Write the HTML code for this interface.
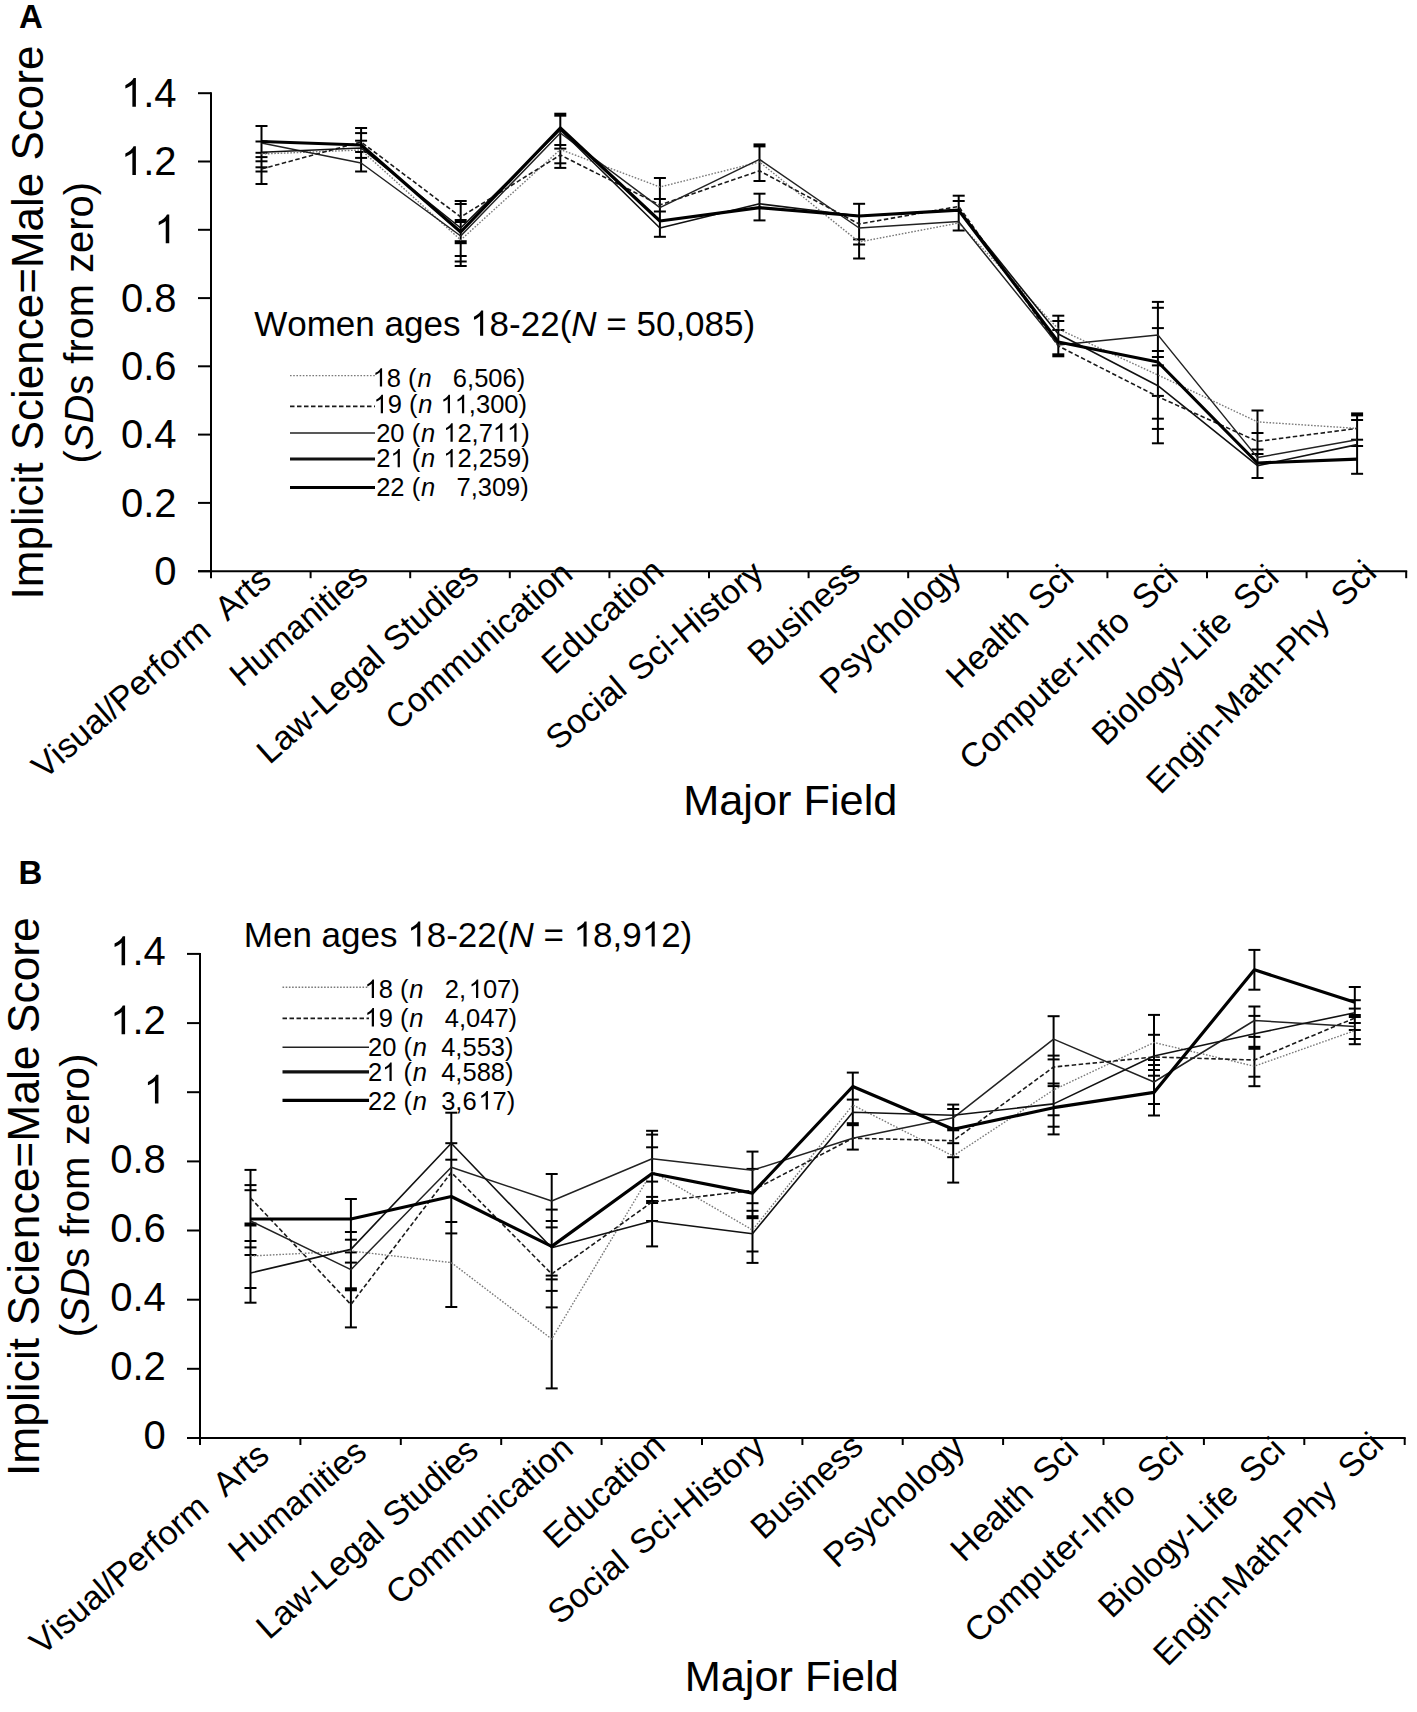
<!DOCTYPE html><html><head><meta charset="utf-8"><style>html,body{margin:0;padding:0;background:#fff;}svg{display:block} text{font-family:"Liberation Sans", sans-serif;fill:#000;font-kerning:none}</style></head><body>
<svg width="1417" height="1712" viewBox="0 0 1417 1712">
<rect width="1417" height="1712" fill="#fff"/>
<text x="19.0" y="27.9" font-size="33" text-anchor="start" font-weight="bold" >A</text>
<text transform="translate(43.2,322.5) rotate(-90)" font-size="44" text-anchor="middle" x="0" y="0">Implicit Science=Male Score</text>
<text transform="translate(92.8,322.7) rotate(-90)" font-size="39.9" text-anchor="middle" x="0" y="0">(<tspan font-style="italic">SD</tspan>s from zero)</text>
<g stroke="#000" stroke-width="2" fill="none"><line x1="211.0" y1="92.2" x2="211.0" y2="578.2" /><line x1="198.0" y1="571.2" x2="1407.2" y2="571.2" /><line x1="198.0" y1="571.2" x2="211.0" y2="571.2" /><line x1="198.0" y1="502.9" x2="211.0" y2="502.9" /><line x1="198.0" y1="434.6" x2="211.0" y2="434.6" /><line x1="198.0" y1="366.3" x2="211.0" y2="366.3" /><line x1="198.0" y1="298.1" x2="211.0" y2="298.1" /><line x1="198.0" y1="229.8" x2="211.0" y2="229.8" /><line x1="198.0" y1="161.5" x2="211.0" y2="161.5" /><line x1="198.0" y1="93.2" x2="211.0" y2="93.2" /><line x1="310.6" y1="571.2" x2="310.6" y2="578.2" /><line x1="410.2" y1="571.2" x2="410.2" y2="578.2" /><line x1="509.8" y1="571.2" x2="509.8" y2="578.2" /><line x1="609.4" y1="571.2" x2="609.4" y2="578.2" /><line x1="709.0" y1="571.2" x2="709.0" y2="578.2" /><line x1="808.6" y1="571.2" x2="808.6" y2="578.2" /><line x1="908.2" y1="571.2" x2="908.2" y2="578.2" /><line x1="1007.8" y1="571.2" x2="1007.8" y2="578.2" /><line x1="1107.4" y1="571.2" x2="1107.4" y2="578.2" /><line x1="1207.0" y1="571.2" x2="1207.0" y2="578.2" /><line x1="1306.6" y1="571.2" x2="1306.6" y2="578.2" /><line x1="1406.2" y1="571.2" x2="1406.2" y2="578.2" /></g>
<text x="154.35" y="584.80" font-size="40" xml:space="preserve">0</text>
<text x="120.99" y="516.51" font-size="40" xml:space="preserve">0.2</text>
<text x="120.99" y="448.23" font-size="40" xml:space="preserve">0.4</text>
<text x="120.99" y="379.94" font-size="40" xml:space="preserve">0.6</text>
<text x="120.99" y="311.66" font-size="40" xml:space="preserve">0.8</text>
<path transform="translate(154.35,243.37) scale(0.01953,-0.01953)" d="M763 0L583 0L583 1147C540 1106 483 1065 413 1024C343 983 280 952 224 931L224 1105C325 1152 413 1210 488 1278C563 1346 616 1412 647 1476L763 1476Z"/>
<path transform="translate(120.99,175.09) scale(0.01953,-0.01953)" d="M763 0L583 0L583 1147C540 1106 483 1065 413 1024C343 983 280 952 224 931L224 1105C325 1152 413 1210 488 1278C563 1346 616 1412 647 1476L763 1476Z"/><text x="143.24" y="175.09" font-size="40" xml:space="preserve">.2</text>
<path transform="translate(120.99,106.80) scale(0.01953,-0.01953)" d="M763 0L583 0L583 1147C540 1106 483 1065 413 1024C343 983 280 952 224 931L224 1105C325 1152 413 1210 488 1278C563 1346 616 1412 647 1476L763 1476Z"/><text x="143.24" y="106.80" font-size="40" xml:space="preserve">.4</text>
<text transform="translate(273.0,582.4) rotate(-40.85)" font-size="34" text-anchor="end" word-spacing="9.4" x="0" y="0">Visual/Perform Arts</text>
<text transform="translate(369.8,579.6) rotate(-40.27)" font-size="33.55" text-anchor="end" word-spacing="0" x="0" y="0">Humanities</text>
<text transform="translate(480.7,578.2) rotate(-41.53)" font-size="34" text-anchor="end" word-spacing="2.44" x="0" y="0">Law-Legal Studies</text>
<text transform="translate(574.6,576.8) rotate(-41.18)" font-size="33.81" text-anchor="end" word-spacing="0" x="0" y="0">Communication</text>
<text transform="translate(665.8,574.0) rotate(-42.49)" font-size="33.85" text-anchor="end" word-spacing="0" x="0" y="0">Education</text>
<text transform="translate(765.4,576.8) rotate(-40.1)" font-size="34" text-anchor="end" word-spacing="4.72" x="0" y="0">Social Sci-History</text>
<text transform="translate(862.2,575.4) rotate(-42.03)" font-size="33.72" text-anchor="end" word-spacing="0" x="0" y="0">Business</text>
<text transform="translate(963.2,576.8) rotate(-42.41)" font-size="34.46" text-anchor="end" word-spacing="0" x="0" y="0">Psychology</text>
<text transform="translate(1075.6,579.7) rotate(-43.59)" font-size="34" text-anchor="end" word-spacing="5.18" x="0" y="0">Health Sci</text>
<text transform="translate(1179.9,579.7) rotate(-42.78)" font-size="34" text-anchor="end" word-spacing="8.73" x="0" y="0">Computer-Info Sci</text>
<text transform="translate(1280.8,579.7) rotate(-43.71)" font-size="34" text-anchor="end" word-spacing="8.04" x="0" y="0">Biology-Life Sci</text>
<text transform="translate(1378.2,574.6) rotate(-45.41)" font-size="34" text-anchor="end" word-spacing="9.8" x="0" y="0">Engin-Math-Phy Sci</text>
<text x="790.3" y="815.0" font-size="43.3" text-anchor="middle" font-weight="normal" >Major Field</text>
<text x="254.20" y="335.70" font-size="35" xml:space="preserve">Women ages </text><path transform="translate(470.13,335.70) scale(0.01709,-0.01709)" d="M763 0L583 0L583 1147C540 1106 483 1065 413 1024C343 983 280 952 224 931L224 1105C325 1152 413 1210 488 1278C563 1346 616 1412 647 1476L763 1476Z"/><text x="489.60" y="335.70" font-size="35" xml:space="preserve">8-22(</text><text x="571.30" y="335.70" font-size="35" font-style="italic" xml:space="preserve">N</text><text x="596.58" y="335.70" font-size="35" xml:space="preserve"> = 50,085)</text>
<line x1="290" y1="375.6" x2="375" y2="375.6" stroke="#7a7a7a" stroke-width="1.4" stroke-dasharray="1.6 1.6"/>
<path transform="translate(372.60,386.60) scale(0.01245,-0.01245)" d="M763 0L583 0L583 1147C540 1106 483 1065 413 1024C343 983 280 952 224 931L224 1105C325 1152 413 1210 488 1278C563 1346 616 1412 647 1476L763 1476Z"/><text x="386.78" y="386.60" font-size="25.5" xml:space="preserve">8 (</text><text x="417.44" y="386.60" font-size="25.5" font-style="italic" xml:space="preserve">n</text><text x="431.62" y="386.60" font-size="25.5" xml:space="preserve">   6,506)</text>
<line x1="290" y1="406.4" x2="375" y2="406.4" stroke="#1a1a1a" stroke-width="1.6" stroke-dasharray="4.5 2.5"/>
<path transform="translate(373.50,413.20) scale(0.01245,-0.01245)" d="M763 0L583 0L583 1147C540 1106 483 1065 413 1024C343 983 280 952 224 931L224 1105C325 1152 413 1210 488 1278C563 1346 616 1412 647 1476L763 1476Z"/><text x="387.68" y="413.20" font-size="25.5" xml:space="preserve">9 (</text><text x="418.34" y="413.20" font-size="25.5" font-style="italic" xml:space="preserve">n</text><path transform="translate(440.51,413.20) scale(0.01245,-0.01245)" d="M763 0L583 0L583 1147C540 1106 483 1065 413 1024C343 983 280 952 224 931L224 1105C325 1152 413 1210 488 1278C563 1346 616 1412 647 1476L763 1476Z"/><path transform="translate(454.69,413.20) scale(0.01245,-0.01245)" d="M763 0L583 0L583 1147C540 1106 483 1065 413 1024C343 983 280 952 224 931L224 1105C325 1152 413 1210 488 1278C563 1346 616 1412 647 1476L763 1476Z"/><text x="468.87" y="413.20" font-size="25.5" xml:space="preserve">,300)</text>
<line x1="290" y1="433.0" x2="375" y2="433.0" stroke="#222" stroke-width="1.5"/>
<text x="376.20" y="441.70" font-size="25.5" xml:space="preserve">20 (</text><text x="421.04" y="441.70" font-size="25.5" font-style="italic" xml:space="preserve">n</text><path transform="translate(443.21,441.70) scale(0.01245,-0.01245)" d="M763 0L583 0L583 1147C540 1106 483 1065 413 1024C343 983 280 952 224 931L224 1105C325 1152 413 1210 488 1278C563 1346 616 1412 647 1476L763 1476Z"/><text x="457.39" y="441.70" font-size="25.5" xml:space="preserve">2,7</text><path transform="translate(492.84,441.70) scale(0.01245,-0.01245)" d="M763 0L583 0L583 1147C540 1106 483 1065 413 1024C343 983 280 952 224 931L224 1105C325 1152 413 1210 488 1278C563 1346 616 1412 647 1476L763 1476Z"/><path transform="translate(507.02,441.70) scale(0.01245,-0.01245)" d="M763 0L583 0L583 1147C540 1106 483 1065 413 1024C343 983 280 952 224 931L224 1105C325 1152 413 1210 488 1278C563 1346 616 1412 647 1476L763 1476Z"/><text x="521.20" y="441.70" font-size="25.5" xml:space="preserve">)</text>
<line x1="290" y1="459.0" x2="375" y2="459.0" stroke="#111" stroke-width="3.2"/>
<text x="376.20" y="467.30" font-size="25.5" xml:space="preserve">2</text><path transform="translate(390.38,467.30) scale(0.01245,-0.01245)" d="M763 0L583 0L583 1147C540 1106 483 1065 413 1024C343 983 280 952 224 931L224 1105C325 1152 413 1210 488 1278C563 1346 616 1412 647 1476L763 1476Z"/><text x="404.56" y="467.30" font-size="25.5" xml:space="preserve"> (</text><text x="421.04" y="467.30" font-size="25.5" font-style="italic" xml:space="preserve">n</text><path transform="translate(443.21,467.30) scale(0.01245,-0.01245)" d="M763 0L583 0L583 1147C540 1106 483 1065 413 1024C343 983 280 952 224 931L224 1105C325 1152 413 1210 488 1278C563 1346 616 1412 647 1476L763 1476Z"/><text x="457.39" y="467.30" font-size="25.5" xml:space="preserve">2,259)</text>
<line x1="290" y1="487.5" x2="375" y2="487.5" stroke="#000" stroke-width="3.2"/>
<text x="376.20" y="495.80" font-size="25.5" xml:space="preserve">22 (</text><text x="421.04" y="495.80" font-size="25.5" font-style="italic" xml:space="preserve">n</text><text x="435.22" y="495.80" font-size="25.5" xml:space="preserve">   7,309)</text>
<g stroke="#000" stroke-width="2" fill="none"><line x1="261.5" y1="126.0" x2="261.5" y2="184.0"/><line x1="255.5" y1="126.0" x2="267.5" y2="126.0"/><line x1="255.5" y1="141.5" x2="267.5" y2="141.5"/><line x1="255.5" y1="152.8" x2="267.5" y2="152.8"/><line x1="255.5" y1="157.1" x2="267.5" y2="157.1"/><line x1="255.5" y1="161.3" x2="267.5" y2="161.3"/><line x1="255.5" y1="167.3" x2="267.5" y2="167.3"/><line x1="255.5" y1="171.5" x2="267.5" y2="171.5"/><line x1="255.5" y1="184.0" x2="267.5" y2="184.0"/><line x1="361.1" y1="128.0" x2="361.1" y2="171.5"/><line x1="355.1" y1="128.0" x2="367.1" y2="128.0"/><line x1="355.1" y1="133.1" x2="367.1" y2="133.1"/><line x1="355.1" y1="140.7" x2="367.1" y2="140.7"/><line x1="355.1" y1="152.0" x2="367.1" y2="152.0"/><line x1="355.1" y1="157.9" x2="367.1" y2="157.9"/><line x1="355.1" y1="171.5" x2="367.1" y2="171.5"/><line x1="460.7" y1="201.0" x2="460.7" y2="266.0"/><line x1="454.7" y1="201.0" x2="466.7" y2="201.0"/><line x1="454.7" y1="204.0" x2="466.7" y2="204.0"/><line x1="454.7" y1="221.0" x2="466.7" y2="221.0" stroke-width="4"/><line x1="454.7" y1="242.2" x2="466.7" y2="242.2" stroke-width="4"/><line x1="454.7" y1="256.0" x2="466.7" y2="256.0"/><line x1="454.7" y1="261.5" x2="466.7" y2="261.5"/><line x1="454.7" y1="266.0" x2="466.7" y2="266.0"/><line x1="560.3" y1="114.7" x2="560.3" y2="167.9"/><line x1="554.3" y1="114.7" x2="566.3" y2="114.7" stroke-width="4"/><line x1="554.3" y1="145.0" x2="566.3" y2="145.0"/><line x1="554.3" y1="148.6" x2="566.3" y2="148.6"/><line x1="554.3" y1="163.3" x2="566.3" y2="163.3"/><line x1="554.3" y1="167.9" x2="566.3" y2="167.9"/><line x1="659.9" y1="178.0" x2="659.9" y2="236.8"/><line x1="653.9" y1="178.0" x2="665.9" y2="178.0"/><line x1="653.9" y1="199.0" x2="665.9" y2="199.0"/><line x1="653.9" y1="211.5" x2="665.9" y2="211.5"/><line x1="653.9" y1="236.8" x2="665.9" y2="236.8"/><line x1="759.5" y1="145.4" x2="759.5" y2="181.0"/><line x1="759.5" y1="193.7" x2="759.5" y2="220.4"/><line x1="753.5" y1="145.4" x2="765.5" y2="145.4" stroke-width="4"/><line x1="753.5" y1="181.0" x2="765.5" y2="181.0"/><line x1="753.5" y1="193.7" x2="765.5" y2="193.7"/><line x1="753.5" y1="220.4" x2="765.5" y2="220.4"/><line x1="859.1" y1="203.8" x2="859.1" y2="258.5"/><line x1="853.1" y1="203.8" x2="865.1" y2="203.8"/><line x1="853.1" y1="239.4" x2="865.1" y2="239.4"/><line x1="853.1" y1="244.5" x2="865.1" y2="244.5"/><line x1="853.1" y1="258.5" x2="865.1" y2="258.5"/><line x1="958.7" y1="195.7" x2="958.7" y2="230.5"/><line x1="952.7" y1="195.7" x2="964.7" y2="195.7"/><line x1="952.7" y1="201.0" x2="964.7" y2="201.0"/><line x1="952.7" y1="230.5" x2="964.7" y2="230.5"/><line x1="1058.3" y1="315.7" x2="1058.3" y2="355.3"/><line x1="1052.3" y1="315.7" x2="1064.3" y2="315.7"/><line x1="1052.3" y1="321.0" x2="1064.3" y2="321.0"/><line x1="1052.3" y1="330.0" x2="1064.3" y2="330.0"/><line x1="1052.3" y1="355.3" x2="1064.3" y2="355.3" stroke-width="4"/><line x1="1157.9" y1="301.9" x2="1157.9" y2="443.3"/><line x1="1151.9" y1="301.9" x2="1163.9" y2="301.9"/><line x1="1151.9" y1="307.8" x2="1163.9" y2="307.8"/><line x1="1151.9" y1="328.1" x2="1163.9" y2="328.1"/><line x1="1151.9" y1="351.0" x2="1163.9" y2="351.0"/><line x1="1151.9" y1="357.0" x2="1163.9" y2="357.0"/><line x1="1151.9" y1="365.4" x2="1163.9" y2="365.4"/><line x1="1151.9" y1="395.9" x2="1163.9" y2="395.9"/><line x1="1151.9" y1="418.7" x2="1163.9" y2="418.7"/><line x1="1151.9" y1="428.9" x2="1163.9" y2="428.9"/><line x1="1151.9" y1="443.3" x2="1163.9" y2="443.3"/><line x1="1257.5" y1="410.5" x2="1257.5" y2="478.0"/><line x1="1251.5" y1="410.5" x2="1263.5" y2="410.5"/><line x1="1251.5" y1="433.0" x2="1263.5" y2="433.0"/><line x1="1251.5" y1="449.5" x2="1263.5" y2="449.5"/><line x1="1251.5" y1="454.0" x2="1263.5" y2="454.0"/><line x1="1251.5" y1="478.0" x2="1263.5" y2="478.0"/><line x1="1357.1" y1="414.4" x2="1357.1" y2="473.8"/><line x1="1351.1" y1="414.4" x2="1363.1" y2="414.4" stroke-width="4"/><line x1="1351.1" y1="420.0" x2="1363.1" y2="420.0"/><line x1="1351.1" y1="439.7" x2="1363.1" y2="439.7"/><line x1="1351.1" y1="446.0" x2="1363.1" y2="446.0"/><line x1="1351.1" y1="473.8" x2="1363.1" y2="473.8"/></g>
<polyline points="261.5,154.0 361.1,150.0 460.7,240.0 560.3,149.5 659.9,187.0 759.5,162.0 859.1,242.0 958.7,223.0 1058.3,329.0 1157.9,375.0 1257.5,421.9 1357.1,428.4" fill="none" stroke="#7a7a7a" stroke-width="1.4" stroke-linejoin="round" stroke-dasharray="1.6 1.6"/>
<polyline points="261.5,169.0 361.1,142.0 460.7,217.0 560.3,155.0 659.9,205.0 759.5,170.8 859.1,224.0 958.7,206.4 1058.3,346.0 1157.9,396.7 1257.5,441.4 1357.1,428.4" fill="none" stroke="#1a1a1a" stroke-width="1.6" stroke-linejoin="round" stroke-dasharray="4.5 2.5"/>
<polyline points="261.5,143.0 361.1,163.0 460.7,236.0 560.3,133.0 659.9,207.7 759.5,159.4 859.1,228.0 958.7,221.6 1058.3,345.0 1157.9,334.9 1257.5,457.6 1357.1,439.7" fill="none" stroke="#222" stroke-width="1.5" stroke-linejoin="round"/>
<polyline points="261.5,152.3 361.1,148.0 460.7,228.0 560.3,130.0 659.9,228.0 759.5,203.8 859.1,216.0 958.7,210.2 1058.3,334.0 1157.9,385.7 1257.5,465.7 1357.1,444.6" fill="none" stroke="#111" stroke-width="1.6" stroke-linejoin="round"/>
<polyline points="261.5,141.5 361.1,145.0 460.7,232.0 560.3,128.0 659.9,221.0 759.5,207.7 859.1,216.0 958.7,210.2 1058.3,342.0 1157.9,362.0 1257.5,463.0 1357.1,459.2" fill="none" stroke="#000" stroke-width="3.2" stroke-linejoin="round"/>
<text x="18.5" y="884.4" font-size="33" text-anchor="start" font-weight="bold" >B</text>
<text transform="translate(39.2,1196.6) rotate(-90)" font-size="44.4" text-anchor="middle" x="0" y="0">Implicit Science=Male Score</text>
<text transform="translate(89.2,1195.5) rotate(-90)" font-size="40.2" text-anchor="middle" x="0" y="0">(<tspan font-style="italic">SD</tspan>s from zero)</text>
<g stroke="#000" stroke-width="2" fill="none"><line x1="200.0" y1="952.9" x2="200.0" y2="1445.0" /><line x1="187.0" y1="1438.0" x2="1405.7" y2="1438.0" /><line x1="187.0" y1="1438.0" x2="200.0" y2="1438.0" /><line x1="187.0" y1="1368.8" x2="200.0" y2="1368.8" /><line x1="187.0" y1="1299.7" x2="200.0" y2="1299.7" /><line x1="187.0" y1="1230.5" x2="200.0" y2="1230.5" /><line x1="187.0" y1="1161.4" x2="200.0" y2="1161.4" /><line x1="187.0" y1="1092.2" x2="200.0" y2="1092.2" /><line x1="187.0" y1="1023.1" x2="200.0" y2="1023.1" /><line x1="187.0" y1="953.9" x2="200.0" y2="953.9" /><line x1="300.4" y1="1438.0" x2="300.4" y2="1445.0" /><line x1="400.8" y1="1438.0" x2="400.8" y2="1445.0" /><line x1="501.2" y1="1438.0" x2="501.2" y2="1445.0" /><line x1="601.6" y1="1438.0" x2="601.6" y2="1445.0" /><line x1="702.0" y1="1438.0" x2="702.0" y2="1445.0" /><line x1="802.4" y1="1438.0" x2="802.4" y2="1445.0" /><line x1="902.7" y1="1438.0" x2="902.7" y2="1445.0" /><line x1="1003.1" y1="1438.0" x2="1003.1" y2="1445.0" /><line x1="1103.5" y1="1438.0" x2="1103.5" y2="1445.0" /><line x1="1203.9" y1="1438.0" x2="1203.9" y2="1445.0" /><line x1="1304.3" y1="1438.0" x2="1304.3" y2="1445.0" /><line x1="1404.7" y1="1438.0" x2="1404.7" y2="1445.0" /></g>
<text x="143.55" y="1449.30" font-size="40" xml:space="preserve">0</text>
<text x="110.19" y="1380.14" font-size="40" xml:space="preserve">0.2</text>
<text x="110.19" y="1310.99" font-size="40" xml:space="preserve">0.4</text>
<text x="110.19" y="1241.83" font-size="40" xml:space="preserve">0.6</text>
<text x="110.19" y="1172.67" font-size="40" xml:space="preserve">0.8</text>
<path transform="translate(143.55,1103.51) scale(0.01953,-0.01953)" d="M763 0L583 0L583 1147C540 1106 483 1065 413 1024C343 983 280 952 224 931L224 1105C325 1152 413 1210 488 1278C563 1346 616 1412 647 1476L763 1476Z"/>
<path transform="translate(110.19,1034.36) scale(0.01953,-0.01953)" d="M763 0L583 0L583 1147C540 1106 483 1065 413 1024C343 983 280 952 224 931L224 1105C325 1152 413 1210 488 1278C563 1346 616 1412 647 1476L763 1476Z"/><text x="132.44" y="1034.36" font-size="40" xml:space="preserve">.2</text>
<path transform="translate(110.19,965.20) scale(0.01953,-0.01953)" d="M763 0L583 0L583 1147C540 1106 483 1065 413 1024C343 983 280 952 224 931L224 1105C325 1152 413 1210 488 1278C563 1346 616 1412 647 1476L763 1476Z"/><text x="132.44" y="965.20" font-size="40" xml:space="preserve">.4</text>
<text transform="translate(271.0,1458.4) rotate(-40.85)" font-size="34" text-anchor="end" word-spacing="9.4" x="0" y="0">Visual/Perform Arts</text>
<text transform="translate(368.6,1455.2) rotate(-40.27)" font-size="33.55" text-anchor="end" word-spacing="0" x="0" y="0">Humanities</text>
<text transform="translate(480.3,1453.5) rotate(-41.53)" font-size="34" text-anchor="end" word-spacing="2.44" x="0" y="0">Law-Legal Studies</text>
<text transform="translate(575.1,1451.7) rotate(-41.18)" font-size="33.81" text-anchor="end" word-spacing="0" x="0" y="0">Communication</text>
<text transform="translate(667.1,1448.5) rotate(-42.49)" font-size="33.85" text-anchor="end" word-spacing="0" x="0" y="0">Education</text>
<text transform="translate(767.5,1451.0) rotate(-40.1)" font-size="34" text-anchor="end" word-spacing="4.72" x="0" y="0">Social Sci-History</text>
<text transform="translate(865.1,1449.2) rotate(-42.03)" font-size="33.72" text-anchor="end" word-spacing="0" x="0" y="0">Business</text>
<text transform="translate(966.9,1450.3) rotate(-42.41)" font-size="34.46" text-anchor="end" word-spacing="0" x="0" y="0">Psychology</text>
<text transform="translate(1080.1,1452.8) rotate(-43.59)" font-size="34" text-anchor="end" word-spacing="5.18" x="0" y="0">Health Sci</text>
<text transform="translate(1185.3,1452.4) rotate(-42.78)" font-size="34" text-anchor="end" word-spacing="8.73" x="0" y="0">Computer-Info Sci</text>
<text transform="translate(1287.0,1452.1) rotate(-43.71)" font-size="34" text-anchor="end" word-spacing="8.04" x="0" y="0">Biology-Life Sci</text>
<text transform="translate(1385.2,1446.6) rotate(-45.41)" font-size="34" text-anchor="end" word-spacing="9.8" x="0" y="0">Engin-Math-Phy Sci</text>
<text x="791.8" y="1690.8" font-size="43.3" text-anchor="middle" font-weight="normal" >Major Field</text>
<text x="243.80" y="946.60" font-size="35" xml:space="preserve">Men ages </text><path transform="translate(407.23,946.60) scale(0.01709,-0.01709)" d="M763 0L583 0L583 1147C540 1106 483 1065 413 1024C343 983 280 952 224 931L224 1105C325 1152 413 1210 488 1278C563 1346 616 1412 647 1476L763 1476Z"/><text x="426.70" y="946.60" font-size="35" xml:space="preserve">8-22(</text><text x="508.40" y="946.60" font-size="35" font-style="italic" xml:space="preserve">N</text><text x="533.68" y="946.60" font-size="35" xml:space="preserve"> = </text><path transform="translate(573.57,946.60) scale(0.01709,-0.01709)" d="M763 0L583 0L583 1147C540 1106 483 1065 413 1024C343 983 280 952 224 931L224 1105C325 1152 413 1210 488 1278C563 1346 616 1412 647 1476L763 1476Z"/><text x="593.03" y="946.60" font-size="35" xml:space="preserve">8,9</text><path transform="translate(641.69,946.60) scale(0.01709,-0.01709)" d="M763 0L583 0L583 1147C540 1106 483 1065 413 1024C343 983 280 952 224 931L224 1105C325 1152 413 1210 488 1278C563 1346 616 1412 647 1476L763 1476Z"/><text x="661.15" y="946.60" font-size="35" xml:space="preserve">2)</text>
<line x1="282.5" y1="987.2" x2="369" y2="987.2" stroke="#7a7a7a" stroke-width="1.4" stroke-dasharray="1.6 1.6"/>
<path transform="translate(364.50,998.00) scale(0.01245,-0.01245)" d="M763 0L583 0L583 1147C540 1106 483 1065 413 1024C343 983 280 952 224 931L224 1105C325 1152 413 1210 488 1278C563 1346 616 1412 647 1476L763 1476Z"/><text x="378.68" y="998.00" font-size="25.5" xml:space="preserve">8 (</text><text x="409.34" y="998.00" font-size="25.5" font-style="italic" xml:space="preserve">n</text><text x="423.52" y="998.00" font-size="25.5" xml:space="preserve">   2,</text><path transform="translate(468.74,998.00) scale(0.01245,-0.01245)" d="M763 0L583 0L583 1147C540 1106 483 1065 413 1024C343 983 280 952 224 931L224 1105C325 1152 413 1210 488 1278C563 1346 616 1412 647 1476L763 1476Z"/><text x="482.92" y="998.00" font-size="25.5" xml:space="preserve">07)</text>
<line x1="282.5" y1="1018.4" x2="369" y2="1018.4" stroke="#1a1a1a" stroke-width="1.6" stroke-dasharray="4.5 2.5"/>
<path transform="translate(364.50,1026.50) scale(0.01245,-0.01245)" d="M763 0L583 0L583 1147C540 1106 483 1065 413 1024C343 983 280 952 224 931L224 1105C325 1152 413 1210 488 1278C563 1346 616 1412 647 1476L763 1476Z"/><text x="378.68" y="1026.50" font-size="25.5" xml:space="preserve">9 (</text><text x="409.34" y="1026.50" font-size="25.5" font-style="italic" xml:space="preserve">n</text><text x="423.52" y="1026.50" font-size="25.5" xml:space="preserve">   4,047)</text>
<line x1="282.5" y1="1047.2" x2="369" y2="1047.2" stroke="#222" stroke-width="1.5"/>
<text x="368.00" y="1056.00" font-size="25.5" xml:space="preserve">20 (</text><text x="412.84" y="1056.00" font-size="25.5" font-style="italic" xml:space="preserve">n</text><text x="427.02" y="1056.00" font-size="25.5" xml:space="preserve">  4,553)</text>
<line x1="282.5" y1="1071.9" x2="369" y2="1071.9" stroke="#111" stroke-width="3.2"/>
<text x="368.00" y="1081.00" font-size="25.5" xml:space="preserve">2</text><path transform="translate(382.18,1081.00) scale(0.01245,-0.01245)" d="M763 0L583 0L583 1147C540 1106 483 1065 413 1024C343 983 280 952 224 931L224 1105C325 1152 413 1210 488 1278C563 1346 616 1412 647 1476L763 1476Z"/><text x="396.36" y="1081.00" font-size="25.5" xml:space="preserve"> (</text><text x="412.84" y="1081.00" font-size="25.5" font-style="italic" xml:space="preserve">n</text><text x="427.02" y="1081.00" font-size="25.5" xml:space="preserve">  4,588)</text>
<line x1="282.5" y1="1100.4" x2="369" y2="1100.4" stroke="#000" stroke-width="3.2"/>
<text x="368.00" y="1109.50" font-size="25.5" xml:space="preserve">22 (</text><text x="412.84" y="1109.50" font-size="25.5" font-style="italic" xml:space="preserve">n</text><text x="427.02" y="1109.50" font-size="25.5" xml:space="preserve">  3,6</text><path transform="translate(478.44,1109.50) scale(0.01245,-0.01245)" d="M763 0L583 0L583 1147C540 1106 483 1065 413 1024C343 983 280 952 224 931L224 1105C325 1152 413 1210 488 1278C563 1346 616 1412 647 1476L763 1476Z"/><text x="492.62" y="1109.50" font-size="25.5" xml:space="preserve">7)</text>
<g stroke="#000" stroke-width="2" fill="none"><line x1="250.5" y1="1169.9" x2="250.5" y2="1302.7"/><line x1="244.5" y1="1169.9" x2="256.5" y2="1169.9"/><line x1="244.5" y1="1185.1" x2="256.5" y2="1185.1"/><line x1="244.5" y1="1190.2" x2="256.5" y2="1190.2"/><line x1="244.5" y1="1224.5" x2="256.5" y2="1224.5" stroke-width="4"/><line x1="244.5" y1="1241.0" x2="256.5" y2="1241.0"/><line x1="244.5" y1="1247.4" x2="256.5" y2="1247.4"/><line x1="244.5" y1="1255.0" x2="256.5" y2="1255.0"/><line x1="244.5" y1="1288.0" x2="256.5" y2="1288.0"/><line x1="244.5" y1="1302.7" x2="256.5" y2="1302.7"/><line x1="350.9" y1="1199.0" x2="350.9" y2="1327.4"/><line x1="344.9" y1="1199.0" x2="356.9" y2="1199.0"/><line x1="344.9" y1="1232.0" x2="356.9" y2="1232.0"/><line x1="344.9" y1="1239.7" x2="356.9" y2="1239.7"/><line x1="344.9" y1="1252.4" x2="356.9" y2="1252.4"/><line x1="344.9" y1="1262.6" x2="356.9" y2="1262.6"/><line x1="344.9" y1="1289.3" x2="356.9" y2="1289.3" stroke-width="4"/><line x1="344.9" y1="1327.4" x2="356.9" y2="1327.4"/><line x1="451.3" y1="1112.7" x2="451.3" y2="1307.0"/><line x1="445.3" y1="1112.7" x2="457.3" y2="1112.7"/><line x1="445.3" y1="1143.2" x2="457.3" y2="1143.2"/><line x1="445.3" y1="1159.7" x2="457.3" y2="1159.7"/><line x1="445.3" y1="1222.0" x2="457.3" y2="1222.0"/><line x1="445.3" y1="1233.4" x2="457.3" y2="1233.4"/><line x1="445.3" y1="1307.0" x2="457.3" y2="1307.0"/><line x1="551.7" y1="1174.0" x2="551.7" y2="1388.4"/><line x1="545.7" y1="1174.0" x2="557.7" y2="1174.0"/><line x1="545.7" y1="1209.6" x2="557.7" y2="1209.6"/><line x1="545.7" y1="1221.0" x2="557.7" y2="1221.0"/><line x1="545.7" y1="1227.4" x2="557.7" y2="1227.4"/><line x1="545.7" y1="1275.6" x2="557.7" y2="1275.6"/><line x1="545.7" y1="1279.4" x2="557.7" y2="1279.4"/><line x1="545.7" y1="1290.9" x2="557.7" y2="1290.9"/><line x1="545.7" y1="1307.4" x2="557.7" y2="1307.4"/><line x1="545.7" y1="1388.4" x2="557.7" y2="1388.4"/><line x1="652.1" y1="1130.8" x2="652.1" y2="1246.4"/><line x1="646.1" y1="1130.8" x2="658.1" y2="1130.8"/><line x1="646.1" y1="1134.6" x2="658.1" y2="1134.6"/><line x1="646.1" y1="1147.3" x2="658.1" y2="1147.3"/><line x1="646.1" y1="1181.6" x2="658.1" y2="1181.6"/><line x1="646.1" y1="1196.9" x2="658.1" y2="1196.9"/><line x1="646.1" y1="1202.0" x2="658.1" y2="1202.0" stroke-width="4"/><line x1="646.1" y1="1221.0" x2="658.1" y2="1221.0"/><line x1="646.1" y1="1246.4" x2="658.1" y2="1246.4"/><line x1="752.5" y1="1151.6" x2="752.5" y2="1262.9"/><line x1="746.5" y1="1151.6" x2="758.5" y2="1151.6"/><line x1="746.5" y1="1168.9" x2="758.5" y2="1168.9"/><line x1="746.5" y1="1203.2" x2="758.5" y2="1203.2"/><line x1="746.5" y1="1210.8" x2="758.5" y2="1210.8"/><line x1="746.5" y1="1217.2" x2="758.5" y2="1217.2" stroke-width="4"/><line x1="746.5" y1="1251.5" x2="758.5" y2="1251.5"/><line x1="746.5" y1="1262.9" x2="758.5" y2="1262.9"/><line x1="852.8" y1="1072.6" x2="852.8" y2="1149.6"/><line x1="846.8" y1="1072.6" x2="858.8" y2="1072.6"/><line x1="846.8" y1="1099.6" x2="858.8" y2="1099.6"/><line x1="846.8" y1="1124.2" x2="858.8" y2="1124.2" stroke-width="4"/><line x1="846.8" y1="1149.6" x2="858.8" y2="1149.6"/><line x1="953.2" y1="1104.6" x2="953.2" y2="1182.6"/><line x1="947.2" y1="1104.6" x2="959.2" y2="1104.6"/><line x1="947.2" y1="1109.0" x2="959.2" y2="1109.0"/><line x1="947.2" y1="1129.3" x2="959.2" y2="1129.3" stroke-width="4"/><line x1="947.2" y1="1143.2" x2="959.2" y2="1143.2"/><line x1="947.2" y1="1157.2" x2="959.2" y2="1157.2"/><line x1="947.2" y1="1182.6" x2="959.2" y2="1182.6"/><line x1="1053.6" y1="1016.2" x2="1053.6" y2="1134.4"/><line x1="1047.6" y1="1016.2" x2="1059.6" y2="1016.2"/><line x1="1047.6" y1="1055.6" x2="1059.6" y2="1055.6"/><line x1="1047.6" y1="1059.4" x2="1059.6" y2="1059.4"/><line x1="1047.6" y1="1083.5" x2="1059.6" y2="1083.5"/><line x1="1047.6" y1="1086.1" x2="1059.6" y2="1086.1"/><line x1="1047.6" y1="1115.3" x2="1059.6" y2="1115.3"/><line x1="1047.6" y1="1126.7" x2="1059.6" y2="1126.7"/><line x1="1047.6" y1="1134.4" x2="1059.6" y2="1134.4"/><line x1="1154.0" y1="1014.9" x2="1154.0" y2="1115.5"/><line x1="1148.0" y1="1014.9" x2="1160.0" y2="1014.9"/><line x1="1148.0" y1="1034.8" x2="1160.0" y2="1034.8"/><line x1="1148.0" y1="1060.0" x2="1160.0" y2="1060.0"/><line x1="1148.0" y1="1065.0" x2="1160.0" y2="1065.0"/><line x1="1148.0" y1="1070.0" x2="1160.0" y2="1070.0"/><line x1="1148.0" y1="1075.7" x2="1160.0" y2="1075.7"/><line x1="1148.0" y1="1104.0" x2="1160.0" y2="1104.0"/><line x1="1148.0" y1="1115.5" x2="1160.0" y2="1115.5"/><line x1="1254.4" y1="949.9" x2="1254.4" y2="989.7"/><line x1="1254.4" y1="1006.5" x2="1254.4" y2="1086.2"/><line x1="1248.4" y1="949.9" x2="1260.4" y2="949.9"/><line x1="1248.4" y1="989.7" x2="1260.4" y2="989.7"/><line x1="1248.4" y1="1006.5" x2="1260.4" y2="1006.5"/><line x1="1248.4" y1="1015.9" x2="1260.4" y2="1015.9"/><line x1="1248.4" y1="1036.9" x2="1260.4" y2="1036.9"/><line x1="1248.4" y1="1047.8" x2="1260.4" y2="1047.8" stroke-width="4"/><line x1="1248.4" y1="1076.7" x2="1260.4" y2="1076.7"/><line x1="1248.4" y1="1086.2" x2="1260.4" y2="1086.2"/><line x1="1354.8" y1="987.0" x2="1354.8" y2="1044.2"/><line x1="1348.8" y1="987.0" x2="1360.8" y2="987.0"/><line x1="1348.8" y1="1000.2" x2="1360.8" y2="1000.2"/><line x1="1348.8" y1="1008.6" x2="1360.8" y2="1008.6"/><line x1="1348.8" y1="1016.0" x2="1360.8" y2="1016.0" stroke-width="4"/><line x1="1348.8" y1="1023.0" x2="1360.8" y2="1023.0"/><line x1="1348.8" y1="1030.0" x2="1360.8" y2="1030.0"/><line x1="1348.8" y1="1039.0" x2="1360.8" y2="1039.0"/><line x1="1348.8" y1="1044.2" x2="1360.8" y2="1044.2"/></g>
<polyline points="250.5,1256.0 350.9,1251.0 451.3,1262.6 551.7,1339.0 652.1,1171.5 752.5,1230.0 852.8,1105.0 953.2,1156.0 1053.6,1089.9 1154.0,1042.5 1254.4,1066.2 1354.8,1030.6" fill="none" stroke="#7a7a7a" stroke-width="1.4" stroke-linejoin="round" stroke-dasharray="1.6 1.6"/>
<polyline points="250.5,1198.0 350.9,1304.5 451.3,1172.4 551.7,1274.0 652.1,1202.0 752.5,1190.5 852.8,1138.2 953.2,1140.7 1053.6,1067.0 1154.0,1057.0 1254.4,1060.0 1354.8,1018.0" fill="none" stroke="#1a1a1a" stroke-width="1.6" stroke-linejoin="round" stroke-dasharray="4.5 2.5"/>
<polyline points="250.5,1221.0 350.9,1269.7 451.3,1167.3 551.7,1201.0 652.1,1158.8 752.5,1170.2 852.8,1138.2 953.2,1117.8 1053.6,1039.1 1154.0,1082.0 1254.4,1020.5 1354.8,1026.4" fill="none" stroke="#222" stroke-width="1.5" stroke-linejoin="round"/>
<polyline points="250.5,1273.0 350.9,1249.4 451.3,1143.2 551.7,1247.7 652.1,1221.0 752.5,1233.7 852.8,1112.3 953.2,1115.3 1053.6,1103.9 1154.0,1056.0 1254.4,1033.8 1354.8,1012.8" fill="none" stroke="#111" stroke-width="1.6" stroke-linejoin="round"/>
<polyline points="250.5,1219.0 350.9,1219.0 451.3,1196.5 551.7,1246.4 652.1,1173.5 752.5,1193.1 852.8,1086.5 953.2,1129.3 1053.6,1107.7 1154.0,1092.4 1254.4,969.8 1354.8,1002.3" fill="none" stroke="#000" stroke-width="3.2" stroke-linejoin="round"/>
</svg></body></html>
